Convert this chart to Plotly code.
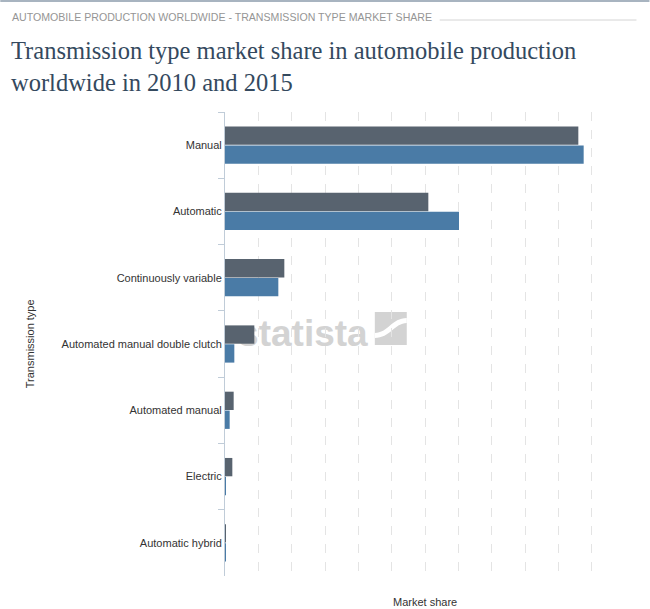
import plotly.graph_objects as go

categories = ["Manual", "Automatic", "Continuously variable",
              "Automated manual double clutch", "Automated manual",
              "Electric", "Automatic hybrid"]
share_2010 = [53.0, 30.5, 8.9, 4.4, 1.3, 1.1, 0.05]
share_2015 = [53.8, 35.1, 8.0, 1.4, 0.7, 0.1, 0.1]

W, H = 650, 609
L, R, T, B = 225, 625.5, 112, 576


def px(x):
    return (x - L) / (R - L)


def py(y):
    return (B - y) / (B - T)


fig = go.Figure()
fig.add_trace(go.Bar(y=categories, x=share_2010, orientation="h", name="2010",
                     marker=dict(color="#58636f", line=dict(width=0))))
fig.add_trace(go.Bar(y=categories, x=share_2015, orientation="h", name="2015",
                     marker=dict(color="#4a7ba6", line=dict(width=0))))

fig.update_layout(
    width=W, height=H,
    margin=dict(l=L, r=W - R, t=T, b=H - B, pad=0),
    paper_bgcolor="white", plot_bgcolor="rgba(0,0,0,0)",
    barmode="group", bargap=0.43, bargroupgap=0.03,
    showlegend=False,
    font=dict(family="Liberation Sans, Arial, sans-serif", size=11, color="#333333"),
    xaxis=dict(range=[0, 60], dtick=5, showticklabels=False, ticks="",
               showgrid=True, gridcolor="#e4e4e4", griddash="dash", gridwidth=1,
               zeroline=False, showline=False, fixedrange=True),
    yaxis=dict(autorange="reversed", tickson="boundaries", ticks="outside",
               ticklen=6, tickcolor="#c0ccd8", showline=True, linecolor="#c0ccd8",
               linewidth=1, showgrid=False, zeroline=False,
               tickfont=dict(size=11, color="#333333"), fixedrange=True),
    hovermode=False,
)

annotations = [
    dict(text="AUTOMOBILE PRODUCTION WORLDWIDE - TRANSMISSION TYPE MARKET SHARE",
         x=px(10), y=py(17), xref="paper", yref="paper", xanchor="left", yanchor="middle",
         showarrow=False,
         font=dict(family="Liberation Sans, Arial, sans-serif",
                   size=10.6, color="#959595")),
    dict(text="Transmission type market share in automobile production<br>worldwide in 2010 and 2015",
         x=px(9), y=py(35), xref="paper", yref="paper", xanchor="left", yanchor="top",
         align="left", showarrow=False,
         font=dict(family="Liberation Serif, DejaVu Serif, serif", size=24.5, color="#34495e")),
    dict(text="Market share", x=0.5, y=py(602), xref="paper", yref="paper",
         xanchor="center", yanchor="middle", showarrow=False,
         font=dict(size=11, color="#333333")),
    dict(text="Transmission type", x=px(30), y=py(344), xref="paper", yref="paper",
         xanchor="center", yanchor="middle", showarrow=False, textangle=-90,
         font=dict(size=11, color="#333333")),
]

shapes = [
    dict(type="line", xref="paper", yref="paper", x0=px(0), x1=px(650), y0=py(1), y1=py(1),
         line=dict(color="#a8b4c0", width=2)),
    dict(type="line", xref="paper", yref="paper", x0=px(440), x1=px(637), y0=py(20), y1=py(20),
         line=dict(color="#d4d4d4", width=1)),
    dict(type="rect", xref="paper", yref="paper", x0=px(238), x1=px(368), y0=py(310), y1=py(348),
         fillcolor="rgba(0,0,0,0)", line=dict(width=0), layer="below",
         label=dict(text="<b>statista</b>", textposition="middle center",
                    font=dict(family="Liberation Sans, Arial, sans-serif", size=37,
                              color="#d3d3d3"))),
    dict(type="rect", xref="paper", yref="paper", x0=px(375), x1=px(407), y0=py(312), y1=py(345),
         fillcolor="#d3d3d3", line=dict(width=0), layer="below"),
    dict(type="path", xref="paper", yref="paper",
         path=f"M {px(375)},{py(333)} C {px(388)},{py(333)} {px(392)},{py(318)} {px(407)},{py(318)} "
              f"L {px(407)},{py(323)} C {px(395)},{py(323)} {px(390)},{py(338)} {px(375)},{py(338)} Z",
         fillcolor="white", line=dict(width=0), layer="below"),
]

fig.update_layout(annotations=annotations, shapes=shapes)
fig.write_html("out.html", config={"displayModeBar": False},
               post_script="document.body.style.margin='0';document.body.style.padding='0';")
